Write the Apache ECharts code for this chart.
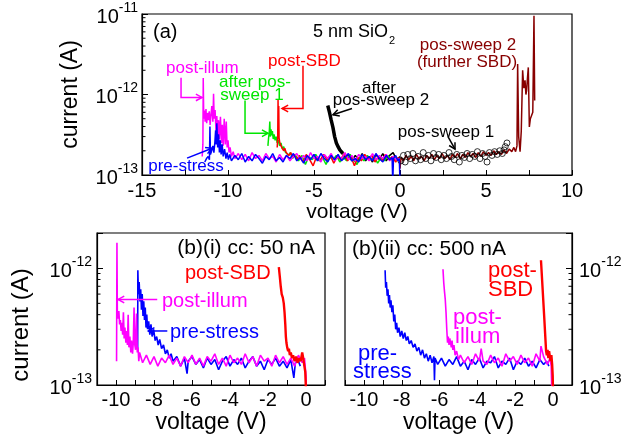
<!DOCTYPE html>
<html><head><meta charset="utf-8">
<script src="https://cdn.jsdelivr.net/npm/echarts@6/dist/echarts.min.js"></script>
<style>html,body{margin:0;padding:0;background:#fff}#c{width:630px;height:438px}</style>
</head><body><div id="c"></div>
<script>
// ---------- DATA (voltage V, current in units of 1e-13 A) ----------
const preStressA = [[-11.35,1.45],[-11.25,1.6],[-11.15,1.7],[-11.08,1.55],[-11.05,4.0],[-11.02,1.8],[-10.95,2.0],[-10.88,2.3],[-10.82,1.9],[-10.76,2.6],[-10.72,3.6],[-10.68,2.4],[-10.65,4.4],[-10.6,2.2],[-10.55,3.2],[-10.5,1.9],[-10.45,2.7],[-10.4,1.8],[-10.34,2.4],[-10.28,1.7],[-10.2,2.1],[-10.12,1.6],[-10.05,1.9],[-9.98,1.55],[-9.9,1.8],
[-9.8,1.5],[-9.6,1.75],[-9.4,1.55],[-9.2,1.85],[-9.0,1.45],[-8.8,1.7],[-8.6,1.5],[-8.4,1.8],[-8.2,1.6],[-8.0,1.4],[-7.8,1.7],[-7.6,1.55],[-7.4,1.85],[-7.2,1.5],[-7.0,1.65],[-6.8,1.45],[-6.6,1.75],[-6.4,1.6],[-6.2,1.85],[-6.0,1.5],[-5.8,1.65],[-5.6,1.4],[-5.4,1.75],[-5.2,1.55],[-5.0,1.8],[-4.8,1.5],[-4.6,1.85],[-4.4,1.6],[-4.2,1.45],[-4.0,1.75],[-3.8,1.55],[-3.6,1.8],[-3.4,1.5],[-3.2,1.65],[-3.0,1.85],[-2.8,1.5],[-2.6,1.6],[-2.4,1.45],[-2.2,1.8],[-2.0,1.55],[-1.8,1.7],[-1.6,1.5],[-1.4,1.85],[-1.2,1.6],[-1.0,1.45],[-0.8,1.75],[-0.6,1.55],[-0.46,1.65],[-0.42,0.8],[-0.38,1.6],[-0.25,1.75],[-0.12,1.5],[-0.04,1.6],[0.0,0.8]];
const postIllumA = [[-11.5,1.7],[-11.46,2.4],[-11.44,16.0],[-11.41,5.0],[-11.37,6.3],[-11.33,4.6],[-11.28,6.6],[-11.24,4.4],[-11.19,5.9],[-11.14,4.8],[-11.09,6.2],[-11.04,4.2],[-10.99,5.6],[-10.94,7.2],[-10.88,4.6],[-10.84,10.2],[-10.8,5.0],[-10.75,6.4],[-10.7,3.6],[-10.65,5.4],[-10.6,3.0],[-10.55,4.8],[-10.5,2.8],[-10.44,5.3],[-10.38,2.5],[-10.33,4.2],[-10.28,2.3],[-10.22,5.0],[-10.16,2.4],[-10.1,4.6],[-10.05,2.2],[-10.0,2.7],[-9.94,1.9],[-9.88,2.2],[-9.8,1.7],[-9.7,1.95],
[-9.6,1.6],[-9.4,1.85],[-9.2,1.55],[-9.0,1.8],[-8.8,1.5],[-8.6,1.9],[-8.4,1.6],[-8.2,1.75],[-8.0,1.5],[-7.8,1.85],[-7.6,1.6],[-7.4,1.7],[-7.2,1.45],[-7.0,1.8],[-6.8,1.55],[-6.6,1.75],[-6.4,1.5],[-6.2,1.7],[-6.0,1.85],[-5.8,1.55],[-5.6,1.75],[-5.4,1.5],[-5.2,1.9],[-5.0,1.6],[-4.8,1.7],[-4.6,1.45],[-4.4,1.8],[-4.2,1.6],[-4.0,1.85],[-3.8,1.5],[-3.6,1.7],[-3.4,1.6],[-3.2,1.9],[-3.0,1.55],[-2.8,1.75],[-2.6,1.5],[-2.4,1.8],[-2.2,1.6],[-2.0,1.7],[-1.8,1.5],[-1.6,1.85],[-1.4,1.55],[-1.2,1.75],[-1.0,1.6],[-0.8,1.8],[-0.6,1.5],[-0.4,1.7],[-0.2,1.55],[0.0,1.6]];
const afterPos1A = [[-7.68,2.3],[-7.64,2.9],[-7.6,3.4],[-7.57,4.6],[-7.54,3.0],[-7.5,3.7],[-7.46,3.1],[-7.42,3.5],[-7.37,2.8],[-7.32,3.2],[-7.26,2.7],[-7.2,3.0],[-7.14,2.5],[-7.08,2.7],[-7.0,2.3],[-6.92,2.5],[-6.84,2.1],[-6.76,2.25],[-6.68,1.95],[-6.58,2.05],[-6.48,1.75],[-6.38,1.9],[-6.25,1.6],[-6.1,1.8],
[-5.9,1.5],[-5.7,1.75],[-5.5,1.35],[-5.3,1.7],[-5.1,1.55],[-4.9,1.8],[-4.7,1.5],[-4.5,1.65],[-4.3,1.35],[-4.1,1.7],[-3.9,1.55],[-3.7,1.75],[-3.5,1.45],[-3.3,1.65],[-3.1,1.5],[-2.9,1.8],[-2.7,1.55],[-2.5,1.35],[-2.3,1.7],[-2.1,1.5],[-1.9,1.75],[-1.7,1.55],[-1.5,1.7],[-1.3,1.4],[-1.1,1.65],[-0.9,1.5],[-0.7,1.75],[-0.5,1.55],[-0.3,1.7],[-0.1,1.5],[0.0,1.6]];
const postSBDA = [[-7.14,2.2],[-7.11,3.0],[-7.09,8.6],[-7.07,3.4],[-7.05,7.2],[-7.03,2.9],[-7.0,2.6],[-6.96,2.4],[-6.92,2.5],[-6.87,2.2],[-6.82,2.3],[-6.76,2.0],[-6.7,2.15],[-6.62,1.9],[-6.54,2.0],[-6.45,1.75],[-6.35,1.9],[-6.25,1.65],[-6.12,1.8],[-6.0,1.55],
[-5.85,1.75],[-5.65,1.45],[-5.45,1.8],[-5.25,1.55],[-5.05,1.3],[-4.85,1.7],[-4.65,1.5],[-4.45,1.8],[-4.25,1.55],[-4.05,1.75],[-3.85,1.4],[-3.65,1.7],[-3.45,1.55],[-3.25,1.85],[-3.05,1.5],[-2.85,1.7],[-2.65,1.3],[-2.45,1.65],[-2.25,1.5],[-2.05,1.8],[-1.85,1.55],[-1.65,1.75],[-1.45,1.45],[-1.25,1.7],[-1.05,1.5],[-0.85,1.8],[-0.65,1.55],[-0.45,1.7],[-0.25,1.45],[-0.1,1.65],[0.0,1.5]];
const afterPos2HeadA = [[-4.2,7.3],[-4.1,6.0],[-4.0,4.8],[-3.9,3.9],[-3.8,3.0],[-3.7,2.5],[-3.6,2.25],[-3.5,2.05],[-3.4,1.95],[-3.32,1.85]];
const afterPos2TailA = [[-3.32,1.85],[-3.2,1.6],[-3.0,1.8],[-2.8,1.5],[-2.6,1.75],[-2.4,1.55],[-2.2,1.85],[-2.0,1.5],[-1.8,1.7],[-1.6,1.45],[-1.4,1.8],[-1.2,1.55],[-1.0,1.85],[-0.8,1.5],[-0.6,1.75],[-0.4,1.9],[-0.2,1.55],[0.0,1.7]];
const posSweep1A = [[0.05,1.5],[0.2,1.75],[0.3,1.45],[0.45,1.8],[0.6,1.6],[0.75,1.85],[0.9,1.5],[1.05,1.7],[1.2,1.55],[1.35,1.9],[1.5,1.6],[1.65,1.75],[1.8,1.5],[1.95,1.85],[2.1,1.65],[2.25,1.8],[2.4,1.55],[2.55,1.75],[2.7,1.6],[2.85,1.9],[3.0,1.7],[3.15,1.55],[3.3,1.8],[3.45,1.45],[3.6,1.75],[3.75,1.65],[3.9,1.85],[4.05,1.6],[4.2,1.8],[4.35,1.7],[4.5,1.95],[4.65,1.6],[4.8,1.85],[4.95,1.7],[5.06,1.45],[5.2,1.9],[5.35,1.75],[5.5,1.95],[5.65,1.8],[5.8,2.0],[5.95,1.85],[6.05,2.05],[6.12,2.25],[6.22,2.5]];
const posSweep2A = [[0.0,1.2],[0.06,1.65],[0.2,1.5],[0.35,1.75],[0.5,1.55],[0.65,1.7],[0.8,1.5],[0.95,1.8],[1.1,1.6],[1.25,1.7],[1.4,1.5],[1.55,1.75],[1.7,1.6],[1.85,1.8],[2.0,1.55],[2.15,1.75],[2.3,1.6],[2.45,1.85],[2.6,1.6],[2.75,1.75],[2.9,1.55],[3.05,1.8],[3.2,1.65],[3.35,1.85],[3.5,1.6],[3.65,1.8],[3.8,1.65],[3.95,1.9],[4.1,1.7],[4.25,1.85],[4.4,1.65],[4.55,1.9],[4.7,1.7],[4.85,1.95],[5.0,1.75],[5.15,1.9],[5.3,1.75],[5.45,2.0],[5.6,1.8],[5.75,1.95],[5.9,1.8],[6.05,2.05],[6.2,1.85],[6.35,2.1],[6.5,1.95],[6.62,2.2],[6.72,1.95],[6.8,2.3],[6.84,24],[6.9,3.0],[6.98,1.95],[7.05,3.5],[7.13,20],[7.2,12],[7.27,15],[7.32,10],[7.36,11.2],[7.41,16],[7.46,21.7],[7.52,3.95],[7.58,5.0],[7.65,4.77],[7.72,6],[7.79,95],[7.83,8.4]];

const postIllumBi = [[-9.97,1.6],[-9.95,16.5],[-9.93,4.2],[-9.89,3.7],[-9.85,4.3],[-9.81,3.3],[-9.77,3.6],[-9.73,2.9],[-9.69,3.4],[-9.65,2.7],[-9.61,4.2],[-9.57,2.5],[-9.53,3.1],[-9.48,2.3],[-9.44,2.9],[-9.4,2.2],[-9.36,4.0],[-9.32,2.1],[-9.27,2.6],[-9.22,1.9],[-9.18,2.4],[-9.13,1.85],[-9.09,2.3],[-9.05,4.6],[-9.01,2.2],[-8.97,2.0],[-8.92,4.1],[-8.88,1.9],[-8.84,2.1],[-8.8,1.6],[-8.76,1.9],
[-8.6,1.55],[-8.4,1.8],[-8.2,1.5],[-8.0,1.75],[-7.8,1.45],[-7.6,1.7],[-7.4,1.55],[-7.2,1.8],[-7.0,1.5],[-6.8,1.7],[-6.6,1.45],[-6.4,1.75],[-6.2,1.55],[-6.0,1.8],[-5.8,1.5],[-5.6,1.7],[-5.4,1.45],[-5.2,1.75],[-5.0,1.6],[-4.8,1.85],[-4.6,1.5],[-4.4,1.7],[-4.2,1.45],[-4.0,1.8],[-3.8,1.55],[-3.6,1.7],[-3.4,1.5],[-3.2,1.85],[-3.0,1.55],[-2.8,1.75],[-2.6,1.45],[-2.4,1.8],[-2.2,1.6],[-2.0,1.7],[-1.8,1.45],[-1.6,1.8],[-1.4,1.55],[-1.2,1.75],[-1.0,1.5],[-0.8,1.7],[-0.6,1.45],[-0.4,1.8],[-0.2,1.55],[-0.08,1.7],[0.0,1.2],[0.02,0.9]];
const preStressBi = [[-8.86,2.0],[-8.85,9.6],[-8.82,6.0],[-8.78,7.6],[-8.74,5.2],[-8.7,6.6],[-8.66,4.4],[-8.62,6.0],[-8.58,3.9],[-8.54,5.2],[-8.5,3.6],[-8.46,4.6],[-8.42,3.1],[-8.38,4.0],[-8.34,3.0],[-8.28,3.5],[-8.22,2.7],[-8.16,3.3],[-8.1,2.6],[-8.02,3.0],[-7.94,2.4],[-7.86,2.6],[-7.78,2.2],[-7.7,2.45],[-7.6,2.05],[-7.5,2.2],[-7.4,1.85],[-7.3,2.0],[-7.2,1.7],[-7.1,1.85],
[-7.0,1.6],[-6.8,1.75],[-6.6,1.45],[-6.4,1.7],[-6.26,1.25],[-6.2,1.6],[-6.0,1.75],[-5.8,1.5],[-5.6,1.65],[-5.4,1.4],[-5.2,1.7],[-5.0,1.5],[-4.8,1.65],[-4.6,1.35],[-4.4,1.6],[-4.2,1.75],[-4.0,1.45],[-3.8,1.65],[-3.6,1.5],[-3.4,1.7],[-3.2,1.4],[-3.0,1.6],[-2.8,1.75],[-2.6,1.45],[-2.4,1.6],[-2.2,1.35],[-2.0,1.65],[-1.8,1.5],[-1.6,1.7],[-1.4,1.45],[-1.2,1.6],[-1.0,1.4],[-0.8,1.65],[-0.64,1.15],[-0.56,1.55],[-0.4,1.6],[-0.3,1.45]];
const postSBDBi = [[-1.43,10.2],[-1.38,8.5],[-1.33,7.0],[-1.28,6.0],[-1.22,5.6],[-1.17,5.0],[-1.13,4.2],[-1.09,3.3],[-1.06,2.6],[-1.03,2.3],[-0.99,2.1],[-0.94,1.95],[-0.9,2.05],[-0.85,1.8],[-0.8,1.9],[-0.74,1.7],[-0.68,1.8],[-0.6,1.6],[-0.52,1.75],[-0.44,1.55],[-0.36,1.7],[-0.28,1.6],[-0.2,1.9],[-0.16,1.75],[-0.1,1.5],[-0.04,1.3],[0.0,0.9]];

const preStressBii = [[-8.88,9.6],[-8.85,6.8],[-8.81,7.6],[-8.77,5.8],[-8.73,6.6],[-8.69,5.0],[-8.65,5.9],[-8.61,4.6],[-8.57,5.3],[-8.52,4.2],[-8.47,4.8],[-8.42,3.5],[-8.37,4.0],[-8.32,3.0],[-8.27,3.4],[-8.22,2.8],[-8.15,3.1],[-8.08,2.6],[-8.0,2.9],[-7.92,2.5],[-7.84,2.8],[-7.76,2.4],[-7.68,2.6],[-7.6,2.25],[-7.5,2.4],[-7.4,2.1],[-7.3,2.25],[-7.2,1.95],[-7.1,2.1],[-7.0,1.8],[-6.9,2.0],[-6.8,1.7],[-6.7,1.85],[-6.6,1.6],[-6.5,1.8],[-6.4,1.55],[-6.3,1.75],[-6.27,1.1],[-6.24,1.7],
[-6.1,1.5],[-5.9,1.7],[-5.7,1.45],[-5.5,1.65],[-5.3,1.5],[-5.1,1.75],[-4.9,1.45],[-4.7,1.6],[-4.5,1.35],[-4.3,1.65],[-4.1,1.5],[-3.9,1.7],[-3.7,1.4],[-3.5,1.6],[-3.3,1.55],[-3.1,1.75],[-2.9,1.4],[-2.7,1.6],[-2.5,1.5],[-2.3,1.7],[-2.1,1.35],[-1.9,1.6],[-1.7,1.5],[-1.5,1.7],[-1.3,1.45],[-1.1,1.6],[-0.9,1.4],[-0.7,1.65],[-0.5,1.5],[-0.35,1.6],[-0.22,1.45]];
const postIllumBii = [[-5.82,9.8],[-5.78,7.5],[-5.74,6.3],[-5.7,5.4],[-5.66,4.2],[-5.62,3.0],[-5.58,2.3],[-5.54,2.6],[-5.5,2.2],[-5.46,2.5],[-5.42,2.3],[-5.38,2.1],[-5.34,2.4],[-5.3,2.0],[-5.24,2.2],[-5.18,1.8],[-5.1,1.95],[-5.0,1.65],
[-4.9,1.8],[-4.7,1.55],[-4.5,1.75],[-4.3,1.5],[-4.1,1.85],[-3.9,1.6],[-3.8,2.05],[-3.7,1.6],[-3.5,1.5],[-3.3,1.8],[-3.1,1.55],[-2.9,1.7],[-2.7,1.45],[-2.5,1.85],[-2.3,1.6],[-2.1,1.75],[-1.9,1.5],[-1.7,1.8],[-1.5,1.55],[-1.3,1.7],[-1.1,1.45],[-0.9,1.85],[-0.7,1.6],[-0.64,2.15],[-0.5,1.75],[-0.3,1.5],[-0.16,1.7],[-0.1,1.45],[-0.06,0.8]];
const postSBDBii = [[-0.64,11.7],[-0.55,6.5],[-0.46,3.6],[-0.37,1.95],[-0.33,1.8],[-0.29,2.0],[-0.25,1.7],[-0.21,1.95],[-0.17,1.75],[-0.13,1.6],[-0.09,1.8],[-0.05,1.5],[-0.02,1.2],[0.0,0.8]];

// minor log tick values (A)
const minorTicksA = [2e-13,3e-13,4e-13,5e-13,6e-13,7e-13,8e-13,9e-13,2e-12,3e-12,4e-12,5e-12,6e-12,7e-12,8e-12,9e-12];
const minorTicksB = [2e-13,3e-13,4e-13,5e-13,6e-13,7e-13,8e-13,9e-13];

// annotation arrows: path in [V, current x1e-13 A]
const arrowsA = [
  {color:'#ff00ff', path:[[-12.73,16.2],[-12.73,9.2],[-11.51,9.2]]},
  {color:'#ff0000', path:[[-5.64,22.8],[-5.64,6.7],[-6.86,6.7]]},
  {color:'#00e600', path:[[-9.01,8.4],[-9.01,3.3],[-7.67,3.3]]},
  {color:'#000000', path:[[-2.79,6.7],[-3.90,5.6]]},
  {color:'#000000', path:[[2.79,3.0],[3.20,2.09]]},
  {color:'#0000ff', path:[[-12.38,1.62],[-10.93,2.15]]}
];
const arrowsBi = [
  {color:'#ff00ff', path:[[-7.83,5.4],[-9.89,5.4]]},
  {color:'#0000ff', path:[[-7.30,2.9],[-8.30,2.9]]}
];

// ---------- CHART ----------
const FONT = '"Liberation Sans", Arial, Helvetica, sans-serif';
const C = {blue:'#0000ff', mag:'#ff00ff', green:'#00e600', red:'#ff0000', dred:'#880000', blk:'#000000'};
const toA = arr => arr.map(p => [p[0], p[1] * 1e-13]);

function logLabel(v){
  const e = Math.log10(v), r = Math.round(e);
  if (Math.abs(e - r) > 1e-6) return '';
  return '{b|10}{s|' + r + '}';
}
const richLog = {
  b:{fontSize:20, fontFamily:FONT, color:'#000', padding:[6,0,0,0]},
  s:{fontSize:14, fontFamily:FONT, color:'#000', verticalAlign:'top'}
};
function evenLabel(v){ return (Math.abs(v % 2) < 1e-9 && v >= -10 && v <= 0) ? String(v) : ''; }

function lineS(name, data, color, xi, width, z){
  return {name, type:'line', xAxisIndex:xi, yAxisIndex:xi, data:toA(data), showSymbol:false, symbol:'none',
    lineStyle:{color, width: width || 1.2}, itemStyle:{color}, z: z || 2, clip:true, animation:false};
}
function minorSeries(vals, xi, xv, dir){
  return {type:'custom', xAxisIndex:xi, yAxisIndex:xi, data: vals.map(v => [xv, v]), z:10, silent:true, animation:false,
    renderItem:(p, api) => {
      const pt = api.coord([api.value(0), api.value(1)]);
      return {type:'line', shape:{x1:pt[0], y1:pt[1], x2:pt[0] + 3.5*dir, y2:pt[1]}, style:{stroke:'#000', lineWidth:1}};
    }};
}
function arrowSeries(list, xi){
  return {type:'custom', xAxisIndex:xi, yAxisIndex:xi, data: list.map(a => [a.path[0][0], a.path[0][1]*1e-13]), z:12, silent:true, animation:false,
    renderItem:(p, api) => {
      const a = list[p.dataIndex];
      const pts = a.path.map(q => api.coord([q[0], q[1]*1e-13]));
      const n = pts.length, e = pts[n-1], s = pts[n-2];
      const ang = Math.atan2(e[1]-s[1], e[0]-s[0]), L = 7, w = 0.5;
      const h1 = [e[0] - L*Math.cos(ang - w), e[1] - L*Math.sin(ang - w)];
      const h2 = [e[0] - L*Math.cos(ang + w), e[1] - L*Math.sin(ang + w)];
      return {type:'group', children:[
        {type:'polyline', shape:{points:pts}, style:{stroke:a.color, lineWidth:1.5, fill:null}},
        {type:'polyline', shape:{points:[h1, e, h2]}, style:{stroke:a.color, lineWidth:1.5, fill:null}}
      ]};
    }};
}

const axLine = {show:true, onZero:false, lineStyle:{color:'#000', width:1.2}};
function xAx(gi, min, max, interval, minorSplit, fmt, nameSize, nameGap, margin){
  return {gridIndex:gi, type:'value', min, max, interval,
    axisLine:axLine, splitLine:{show:false},
    axisTick:{show:true, inside:true, length:5, lineStyle:{color:'#000'}},
    minorTick:{show: minorSplit > 0, splitNumber: minorSplit || 5, length:5, lineStyle:{color:'#000'}},
    axisLabel:{fontSize:20, fontFamily:FONT, color:'#000', margin, formatter: fmt},
    name:'voltage (V)', nameLocation:'middle', nameGap, nameTextStyle:{fontSize:nameSize, fontFamily:FONT, color:'#000'}};
}
function yAx(gi, max, pos, margin, name, nameSize, nameGap, namePad){
  const o = {gridIndex:gi, type:'log', logBase:10, min:1e-13, max, position:pos,
    axisLine:axLine, splitLine:{show:false},
    axisTick:{show:true, inside:true, length:6, lineStyle:{color:'#000'}},
    axisLabel:{formatter:logLabel, rich:richLog, margin}};
  if (name){ o.name = name; o.nameLocation = 'middle'; o.nameGap = nameGap;
    o.nameTextStyle = {fontSize:nameSize, fontFamily:FONT, color:'#000', padding: namePad || 0}; }
  return o;
}

function txt(x, y, text, color, size, align){
  return {type:'text', x, y, z:20, silent:true,
    style:{text, fill:color, fontSize:size, fontFamily:FONT, align: align || 'left', verticalAlign:'middle'}};
}

const gridStyle = {show:true, borderColor:'#000', borderWidth:1.2, backgroundColor:'transparent'};
const option = {
  animation:false,
  backgroundColor:'#fff',
  grid:[
    Object.assign({left:142, top:14, width:430, height:161}, gridStyle),
    Object.assign({left:97, top:233, width:228, height:152}, gridStyle),
    Object.assign({left:345, top:233, width:227, height:152}, gridStyle)
  ],
  xAxis:[
    xAx(0, -15, 10, 5, 2, null, 21, 23, 6),
    xAx(1, -11, 1, 1, 0, evenLabel, 23, 26, 5),
    xAx(2, -11, 1, 1, 0, evenLabel, 23, 26, 5)
  ],
  yAxis:[
    yAx(0, 1e-11, 'left', 4, 'current (A)', 23, 60),
    yAx(1, 2e-12, 'left', 5, 'current (A)', 24, 64, [0,32,0,0]),
    yAx(2, 2e-12, 'right', 7, null)
  ],
  series:[
    // panel (a)
    lineS('pos-sweep 2', posSweep2A, C.dred, 0, 1.5, 2),
    {name:'pos-sweep 1', type:'scatter', xAxisIndex:0, yAxisIndex:0, data:toA(posSweep1A), symbol:'circle', symbolSize:6,
      itemStyle:{color:'rgba(0,0,0,0)', borderColor:'#000', borderWidth:1}, z:3, animation:false},
    lineS('after pos-sweep 2', afterPos2TailA, C.blk, 0, 1.5, 2),
    lineS('after pos-sweep 1', afterPos1A, C.green, 0, 1.5, 3),
    lineS('post-SBD', postSBDA, C.red, 0, 1.5, 3),
    lineS('after pos-sweep 2 head', afterPos2HeadA, C.blk, 0, 3.5, 4),
    lineS('post-illum', postIllumA, C.mag, 0, 1.5, 4),
    lineS('pre-stress', preStressA, C.blue, 0, 1.5, 5),
    // panel (b)(i)
    lineS('pre-stress i', preStressBi, C.blue, 1, 1.6, 3),
    lineS('post-illum i', postIllumBi, C.mag, 1, 1.6, 4),
    lineS('post-SBD i', postSBDBi, C.red, 1, 2.4, 5),
    // panel (b)(ii)
    lineS('pre-stress ii', preStressBii, C.blue, 2, 1.6, 3),
    lineS('post-illum ii', postIllumBii, C.mag, 2, 1.6, 4),
    lineS('post-SBD ii', postSBDBii, C.red, 2, 2.4, 5),
    // minor log ticks
    minorSeries(minorTicksA, 0, -15, 1),
    minorSeries(minorTicksB, 1, -11, 1),
    minorSeries(minorTicksB, 2, 1, -1),
    // annotation arrows
    arrowSeries(arrowsA, 0),
    arrowSeries(arrowsBi, 1)
  ],
  graphic:[
    txt(153, 32, '(a)', '#000', 20),
    {type:'text', x:313, y:32, z:20, silent:true, style:{text:'{m|5 nm SiO}{u|2}', verticalAlign:'middle', align:'left',
      rich:{m:{fontSize:18, fontFamily:FONT, fill:'#000', color:'#000', lineHeight:20}, u:{fontSize:11, fontFamily:FONT, color:'#000', fill:'#000', verticalAlign:'bottom', padding:[0,0,-4,1]}}}},
    txt(166, 68, 'post-illum', C.mag, 17),
    txt(268, 61, 'post-SBD', C.red, 17),
    txt(255, 82, 'after pos-', C.green, 17, 'center'),
    txt(252, 95, 'sweep 1', C.green, 17, 'center'),
    txt(379, 88, 'after', '#000', 17, 'center'),
    txt(381, 100, 'pos-sweep 2', '#000', 17, 'center'),
    txt(468, 45, 'pos-sweep 2', C.dred, 17, 'center'),
    txt(467, 62, '(further SBD)', C.dred, 17, 'center'),
    txt(446, 132, 'pos-sweep 1', '#000', 17, 'center'),
    txt(186, 166, 'pre-stress', C.blue, 17, 'center'),
    txt(315, 248, '(b)(i) cc: 50 nA', '#000', 21, 'right'),
    txt(185, 273, 'post-SBD', C.red, 20),
    txt(162, 301, 'post-illum', C.mag, 20),
    txt(170, 332, 'pre-stress', C.blue, 20),
    txt(352, 249, '(b)(ii) cc: 500 nA', '#000', 21),
    txt(488, 271, 'post-', C.red, 22),
    txt(488, 290, 'SBD', C.red, 22),
    txt(453, 318, 'post-', C.mag, 22),
    txt(455, 337, 'illum', C.mag, 22),
    txt(358, 354, 'pre-', C.blue, 22),
    txt(353, 372, 'stress', C.blue, 22)
  ]
};
const chart = echarts.init(document.getElementById('c'), null, {renderer:'canvas'});
chart.setOption(option);
</script></body></html>
